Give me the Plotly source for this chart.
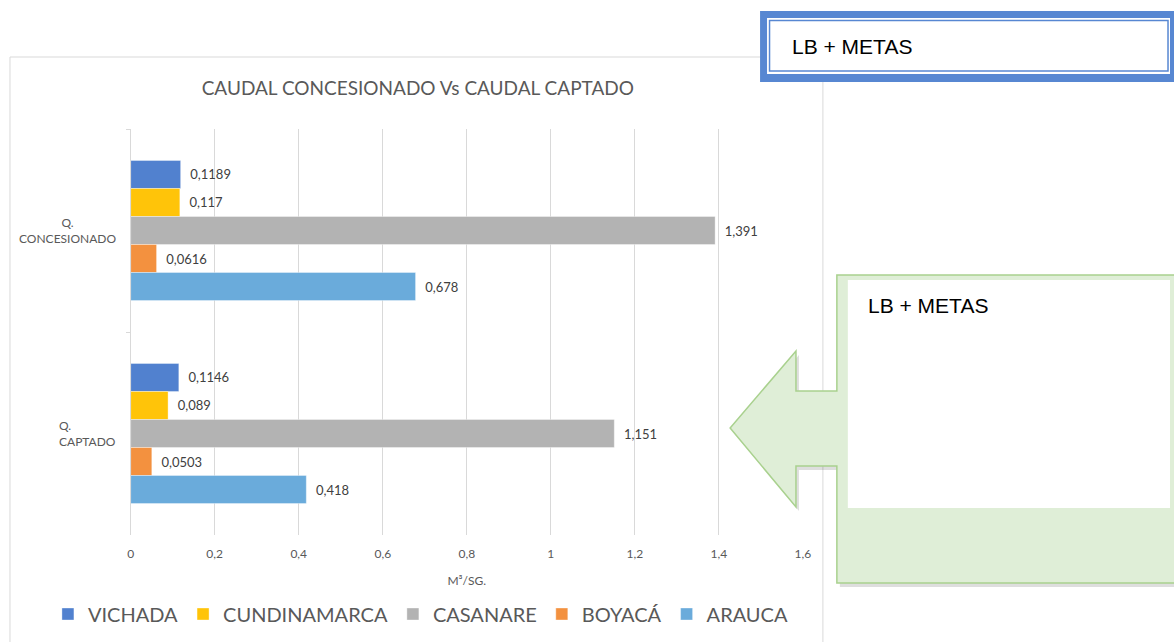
import plotly.graph_objects as go

REF_W, REF_H = 1174, 642
FIG_W, FIG_H = 1182, 642

# ---- data ----
categories = ["Q. CONCESIONADO", "Q. CAPTADO"]
category_labels = ["Q.<br>CONCESIONADO", "Q.<br>CAPTADO"]
series_names = ["VICHADA", "CUNDINAMARCA", "CASANARE", "BOYACÁ", "ARAUCA"]
vichada = [0.1189, 0.1146]
cundinamarca = [0.117, 0.089]
casanare = [1.391, 1.151]
boyaca = [0.0616, 0.0503]
arauca = [0.678, 0.418]
x_ticks = [0, 0.2, 0.4, 0.6, 0.8, 1.0, 1.2, 1.4, 1.6]

series_values = [vichada, cundinamarca, casanare, boyaca, arauca]
colors = ["#5181cf", "#ffc409", "#b3b3b3", "#f3913f", "#6aabdb"]

TXT = "#595959"
FONT = "Lato"


def fx(px):
    return px / REF_W


def fy(py):
    return 1 - py / REF_H


fig = go.Figure()
for name, vals, col in zip(series_names, series_values, colors):
    fig.add_trace(go.Bar(
        name=name,
        y=categories,
        x=vals,
        orientation="h",
        marker=dict(color=col, line=dict(color="rgba(255,255,255,0.6)", width=0.6)),
        text=["\u00a0\u00a0" + str(v).replace(".", ",") for v in vals],
        textposition="outside",
        constraintext="none",
        cliponaxis=False,
        textfont=dict(family=FONT, size=13, color="#404040"),
        hoverinfo="skip",
    ))

shapes = []
annotations = []

# chart area border
shapes.append(dict(type="rect", xref="paper", yref="paper",
                   x0=fx(7), x1=fx(822), y0=fy(660), y1=fy(57),
                   line=dict(color="#d9d9d9", width=1), fillcolor="rgba(0,0,0,0)",
                   layer="below"))

# category labels
for lab, cat, al in zip(category_labels, categories, ["center", "left"]):
    annotations.append(dict(xref="paper", yref="y", x=fx(115), y=cat,
                            xanchor="right", yanchor="middle", align=al,
                            text=lab, showarrow=False,
                            font=dict(family=FONT, size=12, color=TXT)))

# ---- overlay: blue framed box ----
BLUE = "#5787d2"
shapes += [
    dict(type="rect", xref="paper", yref="paper", x0=fx(759), x1=fx(1200),
         y0=fy(82), y1=fy(11), fillcolor=BLUE, line=dict(width=0), layer="above"),
    dict(type="rect", xref="paper", yref="paper", x0=fx(766), x1=fx(1170),
         y0=fy(74), y1=fy(18), fillcolor="white", line=dict(width=0), layer="above"),
    dict(type="rect", xref="paper", yref="paper", x0=fx(768.5), x1=fx(1168),
         y0=fy(71), y1=fy(20.5), fillcolor="rgba(0,0,0,0)",
         line=dict(color=BLUE, width=1.5), layer="above"),
]
annotations.append(dict(xref="paper", yref="paper", x=fx(789), y=fy(47),
                        xanchor="left", yanchor="middle", text="LB + METAS",
                        showarrow=False,
                        font=dict(family="Liberation Sans", size=21, color="black")))

# ---- overlay: green left-arrow callout ----
pts = [(836, 275), (1200, 275), (1200, 583), (836, 583), (836, 466), (795, 466),
       (795, 507), (729, 428), (795, 351), (795, 391), (836, 391)]


def path_of(points, dx=0, dy=0):
    s = "M" + " L".join(f"{fx(x + dx):.5f},{fy(y + dy):.5f}" for x, y in points)
    return s + " Z"


shapes.append(dict(type="path", xref="paper", yref="paper", path=path_of(pts, 3, 4),
                   fillcolor="rgba(0,0,0,0.13)", line=dict(width=0), layer="above"))
shapes.append(dict(type="path", xref="paper", yref="paper", path=path_of(pts),
                   fillcolor="#dfeed7", line=dict(color="#a9d18e", width=1.5),
                   layer="above"))
shapes.append(dict(type="rect", xref="paper", yref="paper", x0=fx(847), x1=fx(1170),
                   y0=fy(508), y1=fy(280), fillcolor="white", line=dict(width=0),
                   layer="above"))
annotations.append(dict(xref="paper", yref="paper", x=fx(865), y=fy(305),
                        xanchor="left", yanchor="middle", text="LB + METAS",
                        showarrow=False,
                        font=dict(family="Liberation Sans", size=21, color="black")))

fig.update_layout(
    width=FIG_W, height=FIG_H,
    margin=dict(l=0, r=0, t=0, b=0),
    paper_bgcolor="white", plot_bgcolor="white",
    separators=",.",
    barmode="group",
    bargap=0.31, bargroupgap=0,
    font=dict(family=FONT, color=TXT),
    title=dict(text="CAUDAL CONCESIONADO Vs CAUDAL CAPTADO",
               x=fx(415), xanchor="center", y=fy(88), yanchor="middle",
               font=dict(family=FONT, size=19, color=TXT)),
    xaxis=dict(domain=[fx(128), fx(802)], range=[0, 1.6], tickvals=x_ticks,
               showgrid=True, gridcolor="#d9d9d9", gridwidth=1,
               zeroline=False, showline=False, ticks="",
               ticklabelstandoff=10,
               tickfont=dict(family=FONT, size=12, color=TXT),
               title=dict(text="M³/SG.", standoff=16,
                          font=dict(family=FONT, size=12, color=TXT))),
    yaxis=dict(domain=[fy(535), fy(129)], type="category",
               categoryorder="array", categoryarray=categories,
               autorange="reversed", showticklabels=False,
               showgrid=False, zeroline=False,
               showline=True, linecolor="#d9d9d9", linewidth=1,
               ticks="outside", tickson="boundaries", ticklen=4,
               tickcolor="#d9d9d9"),
    legend=dict(orientation="h", x=fx(419), xanchor="center",
                y=fy(614), yanchor="middle",
                font=dict(family=FONT, size=20, color=TXT),
                bgcolor="rgba(0,0,0,0)"),
    shapes=shapes,
    annotations=annotations,
    hovermode=False,
)

fig.write_html(
    "out.html",
    config={"displayModeBar": False},
    post_script="document.body.style.margin='0';document.body.style.overflow='hidden';",
)
